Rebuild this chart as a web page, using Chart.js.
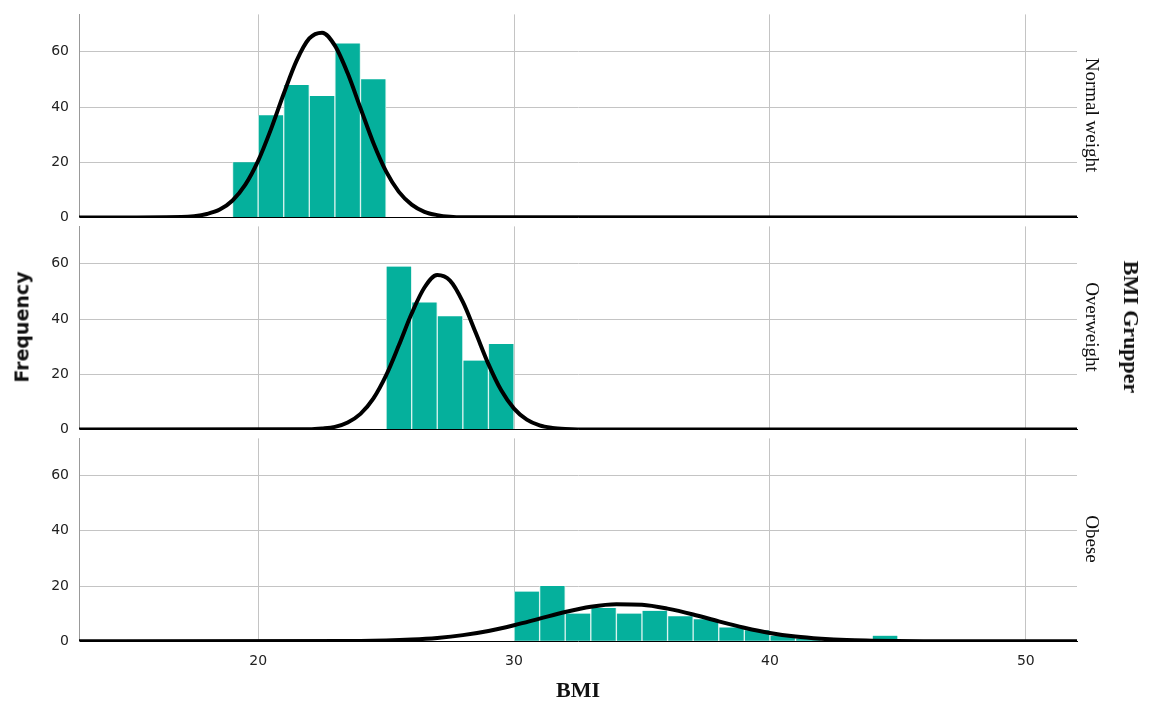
<!DOCTYPE html>
<html>
<head>
<meta charset="utf-8">
<script src="https://cdn.jsdelivr.net/npm/chart.js@4.4.1/dist/chart.umd.min.js"></script>
<style>
    body { margin: 0; background: #fff; }
    #wrap { position: relative; width: 1150px; height: 708px; overflow: hidden; }
    canvas { position: absolute; left: 0; }
    .lbl { position: absolute; white-space: nowrap; line-height: 1; color: #111; }
    .serif { font-family: "Liberation Serif", "DejaVu Serif", serif; }
    .down { transform: translate(-50%, -50%) rotate(90deg); }
    .up { transform: translate(-50%, -50%) rotate(-90deg); }
    .flat { transform: translate(-50%, -50%); }
</style>
</head>
<body>
<div id="wrap">
    <canvas id="p1" width="1150" height="240" style="top:-4px"></canvas>
    <canvas id="p2" width="1150" height="240" style="top:208px"></canvas>
    <canvas id="p3" width="1150" height="262" style="top:420px"></canvas>

    <div class="lbl serif down" style="left:1092px;top:115px;font-size:19px">Normal weight</div>
    <div class="lbl serif down" style="left:1092px;top:327px;font-size:19px">Overweight</div>
    <div class="lbl serif down" style="left:1092px;top:539px;font-size:19px">Obese</div>
    <div class="lbl serif down" style="left:1131px;top:327px;font-size:22px;font-weight:bold">BMI Grupper</div>
    <div class="lbl up" style="left:22px;top:327px;font-size:19px;font-weight:bold;font-family:'DejaVu Sans',sans-serif">Frequency</div>
    <div class="lbl serif flat" style="left:578px;top:690px;font-size:22px;font-weight:bold">BMI</div>
</div>

<script>
// histogram bins (lower edge, width 1) and counts
const binWidth = 1;
const normalBins = [19, 20, 21, 22, 23, 24];
const normalCounts = [20, 37, 48, 44, 63, 50];
const overBins = [25, 26, 27, 28, 29];
const overCounts = [59, 46, 41, 25, 31];
const obeseBins = [30, 31, 32, 33, 34, 35, 36, 37, 38, 39, 40, 41, 42, 43, 44];
const obeseCounts = [18, 20, 10, 12, 10, 11, 9, 8, 5, 4, 2, 1, 0, 0, 2];

// normal curves
const normalCurveX = [13, 17, 17.5, 18, 18.5, 19, 19.5, 20, 20.5, 21, 21.5, 22, 22.5, 23, 23.5, 24, 24.5, 25, 25.5, 26, 26.5, 27, 27.5, 28, 52];
const normalCurveY = [0, 0.2, 0.5, 1.3, 2.9, 6.2, 11.9, 20.5, 31.9, 44.8, 56.7, 64.8, 66.9, 62.2, 52.2, 39.6, 27.1, 16.7, 9.3, 4.7, 2.1, 0.9, 0.3, 0.1, 0];
const overCurveX = [13, 22, 22.5, 23, 23.5, 24, 24.5, 25, 25.5, 26, 26.5, 27, 27.5, 28, 28.5, 29, 29.5, 30, 30.5, 31, 31.5, 32, 32.5, 52];
const overCurveY = [0, 0.1, 0.4, 1.0, 2.6, 5.7, 11.2, 19.6, 30.5, 42.0, 51.4, 55.9, 53.9, 46.2, 35.1, 23.7, 14.2, 7.6, 3.6, 1.5, 0.6, 0.2, 0.05, 0];
const obeseCurveX = [13, 24, 25, 26, 27, 28, 29, 30, 31, 32, 33, 34, 35, 36, 37, 38, 39, 40, 41, 42, 43, 44, 45, 46, 52];
const obeseCurveY = [0, 0.1, 0.25, 0.6, 1.2, 2.2, 3.7, 5.8, 8.2, 10.6, 12.5, 13.4, 13.2, 11.8, 9.7, 7.2, 4.9, 3.0, 1.7, 0.9, 0.4, 0.2, 0.07, 0.02, 0];

const xMin = 13;
const xMax = 52;
const yMax = 73.5;

const barColor = '#05b09c';
const barEdge = '#d8f3ee';
const gridColor = '#c4c4c4';
const tickColor = '#222';
const tickFont = { family: 'DejaVu Sans', size: 14 };

function makePanel(id, bins, counts, curveX, curveY, last) {
    const bars = bins.map((b, i) => ({ x: b + binWidth / 2, y: counts[i] }));
    const curve = curveX.map((x, i) => ({ x: x, y: curveY[i] }));

    return new Chart(document.getElementById(id), {
        type: 'bar',
        data: {
            datasets: [{
                type: 'line',
                data: curve,
                borderColor: '#000',
                borderWidth: 4,
                pointRadius: 0,
                cubicInterpolationMode: 'monotone',
                order: 0
            }, {
                data: bars,
                backgroundColor: barColor,
                borderColor: barEdge,
                borderWidth: { left: 1, right: 1, top: 0, bottom: 0 },
                barPercentage: 1,
                categoryPercentage: 1,
                order: 1
            }]
        },
        options: {
            responsive: false,
            animation: false,
            events: [],
            layout: { padding: { top: 0, right: 73, bottom: 0, left: 0 } },
            plugins: {
                legend: { display: false },
                tooltip: { enabled: false }
            },
            scales: {
                x: {
                    type: 'linear',
                    min: xMin,
                    max: xMax,
                    offset: false,
                    grid: { offset: false, color: gridColor, drawTicks: false },
                    border: { color: '#000', width: 1 },
                    ticks: {
                        display: last,
                        stepSize: 10,
                        includeBounds: false,
                        padding: 12,
                        font: tickFont,
                        color: tickColor
                    }
                },
                y: {
                    min: 0,
                    max: yMax,
                    afterFit: s => { s.width = 79; },
                    grid: {
                        drawTicks: false,
                        color: c => c.tick && c.tick.value === 0 ? 'rgba(0,0,0,0)' : gridColor
                    },
                    border: { color: '#999', width: 1 },
                    ticks: {
                        stepSize: 20,
                        includeBounds: false,
                        padding: 10,
                        font: tickFont,
                        color: tickColor
                    }
                }
            }
        }
    });
}

makePanel('p1', normalBins, normalCounts, normalCurveX, normalCurveY, false);
makePanel('p2', overBins, overCounts, overCurveX, overCurveY, false);
makePanel('p3', obeseBins, obeseCounts, obeseCurveX, obeseCurveY, true);
</script>
</body>
</html>
